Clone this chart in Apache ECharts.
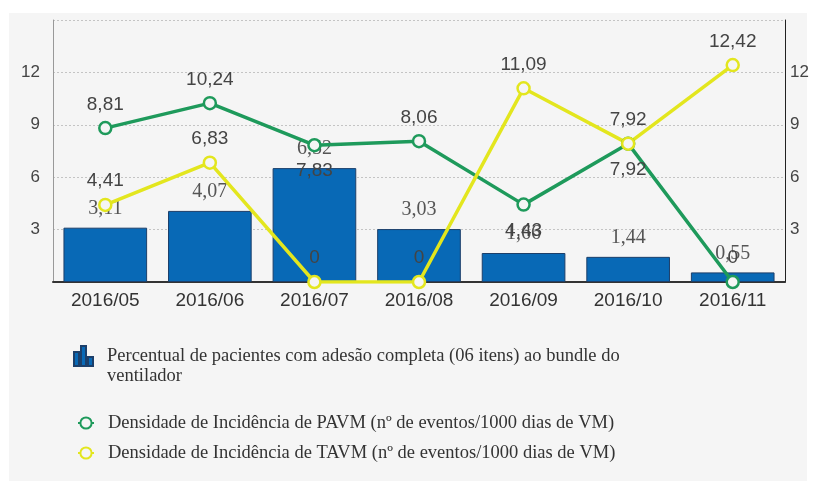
<!DOCTYPE html>
<html>
<head>
<meta charset="utf-8">
<script src="https://cdn.jsdelivr.net/npm/echarts@6/dist/echarts.min.js"></script>
<style>
  html, body { margin: 0; padding: 0; background: #fff; }
  #panel { position: absolute; left: 9px; top: 13px; width: 798px; height: 468px; background: #f5f5f5; }
  #chart { position: absolute; left: 0; top: 0; width: 817px; height: 492px; }
</style>
</head>
<body>
<div id="panel"></div>
<div id="chart"></div>
<script>
// dados
const meses = ['2016/05', '2016/06', '2016/07', '2016/08', '2016/09', '2016/10', '2016/11'];
const adesaoBundle = [3.11, 4.07, 6.52, 3.03, 1.66, 1.44, 0.55];
const densidadePAVM = [8.81, 10.24, 7.83, 8.06, 4.43, 7.92, 0];
const densidadeTAVM = [4.41, 6.83, 0, 0, 11.09, 7.92, 12.42];
// posição do rótulo da PAVM (abaixo em alguns pontos)
const rotuloPAVM = ['top', 'top', 'bottom', 'top', 'bottom', 'bottom', 'top'];
const ticksY = [3, 6, 9, 12];

const nomeBarra = 'Percentual de pacientes com adesão completa (06 itens) ao bundle do ventilador';
const nomePAVM = 'Densidade de Incidência de PAVM (nº de eventos/1000 dias de VM)';
const nomeTAVM = 'Densidade de Incidência de TAVM (nº de eventos/1000 dias de VM)';

const virgula = v => String(v).replace('.', ',');
const sans = 'Arial, "Liberation Sans", sans-serif';
const serif = '"Liberation Serif", "Times New Roman", serif';

const chart = echarts.init(document.getElementById('chart'));

const eixoY = (pos, lineColor, margin) => ({
  type: 'value',
  position: pos,
  min: 0,
  max: 15,
  interval: 3,
  axisLine: { show: true, lineStyle: { color: lineColor, width: 1 } },
  axisTick: { show: false },
  axisLabel: {
    margin: margin,
    color: '#444',
    fontFamily: sans,
    fontSize: 17,
    formatter: v => (ticksY.indexOf(v) >= 0 ? String(v) : '')
  },
  splitLine: pos === 'left'
    ? { show: true, lineStyle: { color: '#c4c4c4', type: [2, 2] } }
    : { show: false }
});

const linha = (name, color, data, posicoes) => ({
  name: name,
  type: 'line',
  yAxisIndex: 0,
  data: data.map((v, i) => ({
    value: v,
    label: posicoes && posicoes[i] === 'bottom'
      ? { position: 'bottom', distance: 9 }
      : { position: 'top', distance: 7 }
  })),
  symbol: 'circle',
  symbolSize: 12,
  lineStyle: { color: color, width: 3.5 },
  itemStyle: { color: '#f5f5f5', borderColor: color, borderWidth: 2.5 },
  label: {
    show: true,
    color: '#444',
    fontFamily: sans,
    fontSize: 19,
    formatter: p => virgula(p.value)
  },
  z: 3
});

// ícone de barras; o último "M" só estende a caixa para baixo
const iconeBarras = 'path://M0,6H5V20H0Z M7,0H12V20H7Z M14,11H19V20H14Z M0,40';

const legenda = (name, top, left, icon, w, h, pad, largura) => ({
  data: [name],
  orient: 'vertical',
  left: left,
  top: top,
  padding: 0,
  icon: icon,
  itemWidth: w,
  itemHeight: h,
  itemGap: 0,
  selectedMode: false,
  textStyle: {
    color: '#333',
    fontFamily: serif,
    fontSize: 18.5,
    width: largura,
    overflow: 'break',
    lineHeight: 20,
    padding: [0, 0, 0, pad]
  }
});

chart.setOption({
  animation: false,
  grid: { left: 53, right: 32, top: 20, bottom: 210 },
  legend: [
    legenda(nomeBarra, 345, 73, iconeBarras, 27, 40, 5, 535),
    legenda(nomePAVM, 413, 77, undefined, 16, 14, 9, 620),
    legenda(nomeTAVM, 443, 77, undefined, 16, 14, 9, 620)
  ],
  xAxis: {
    type: 'category',
    data: meses,
    axisLine: { show: true, lineStyle: { color: '#333', width: 2 } },
    axisTick: { show: false },
    axisLabel: { margin: 9, color: '#333', fontFamily: sans, fontSize: 19 }
  },
  yAxis: [eixoY('left', '#999', 13), eixoY('right', '#222', 5)],
  series: [
    {
      name: nomeBarra,
      type: 'bar',
      data: adesaoBundle,
      barCategoryGap: '20%',
      itemStyle: { color: '#0869b6', borderColor: '#1c3f6a', borderWidth: 1 },
      label: {
        show: true,
        position: 'top',
        distance: 9,
        color: '#555',
        fontFamily: serif,
        fontSize: 20,
        formatter: p => virgula(p.value)
      }
    },
    linha(nomePAVM, '#1e9a5b', densidadePAVM, rotuloPAVM),
    linha(nomeTAVM, '#e3e61e', densidadeTAVM, null)
  ]
});
</script>
</body>
</html>
